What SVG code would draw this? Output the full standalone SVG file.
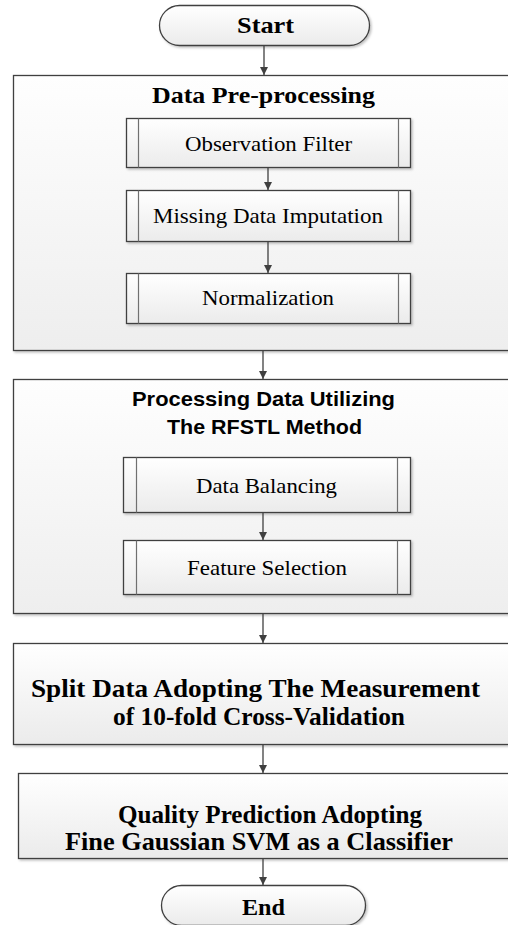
<svg xmlns="http://www.w3.org/2000/svg" width="508" height="925" viewBox="0 0 508 925">
  <defs>
    <linearGradient id="gBox" x1="0" y1="0" x2="0" y2="1">
      <stop offset="0" stop-color="#ffffff"/>
      <stop offset="1" stop-color="#ebebeb"/>
    </linearGradient>
    <linearGradient id="gPanel" x1="0" y1="0" x2="0" y2="1">
      <stop offset="0" stop-color="#fefefe"/>
      <stop offset="1" stop-color="#eeeeee"/>
    </linearGradient>
    <filter id="shadow" x="-5%" y="-5%" width="115%" height="130%">
      <feDropShadow dx="1.5" dy="1.5" stdDeviation="1" flood-color="#000" flood-opacity="0.25"/>
    </filter>
    <marker id="arrow" viewBox="0 0 10 10" refX="10" refY="5" markerWidth="8" markerHeight="8" markerUnits="userSpaceOnUse" orient="auto">
      <path d="M0,0 L10,5 L0,10 Z" fill="#404040"/>
    </marker>
  </defs>
  <style>
    .shape { fill: url(#gBox); stroke: #404040; stroke-width: 1.3; filter: url(#shadow); }
    .panel { fill: url(#gPanel); stroke: #404040; stroke-width: 1.3; filter: url(#shadow); }
    .bar { stroke: #707070; stroke-width: 1.2; }
    .serif { font-family: "Liberation Serif", "Times New Roman", serif; fill: #000; }
    .bold { font-weight: bold; }
    .sans { font-family: "Liberation Sans", Arial, sans-serif; font-weight: bold; fill: #000; }
    .link { stroke: #404040; stroke-width: 1.3; fill: none; marker-end: url(#arrow); }
  </style>

  <rect width="508" height="925" fill="#ffffff"/>

  <!-- terminator: Start -->
  <g id="start">
    <rect class="shape" x="159.5" y="5.5" width="210" height="40" rx="20" ry="20"/>
    <text class="serif bold" x="237" y="33" font-size="24" textLength="57" lengthAdjust="spacingAndGlyphs">Start</text>
  </g>

  <!-- panel: data pre-processing -->
  <g id="preprocessing">
    <rect class="panel" x="13.5" y="75.5" width="510" height="275"/>
    <text class="serif bold" x="152" y="103" font-size="24" textLength="223" lengthAdjust="spacingAndGlyphs">Data Pre-processing</text>
  </g>

  <g id="observation-filter">
    <rect class="shape" x="126.5" y="118.5" width="284" height="49"/>
    <line class="bar" x1="138.5" y1="118.5" x2="138.5" y2="167.5"/>
    <line class="bar" x1="398.5" y1="118.5" x2="398.5" y2="167.5"/>
    <text class="serif" x="185" y="151" font-size="22" textLength="167" lengthAdjust="spacingAndGlyphs">Observation Filter</text>
  </g>

  <g id="missing-data">
    <rect class="shape" x="126.5" y="190.5" width="284" height="51"/>
    <line class="bar" x1="138.5" y1="190.5" x2="138.5" y2="241.5"/>
    <line class="bar" x1="398.5" y1="190.5" x2="398.5" y2="241.5"/>
    <text class="serif" x="153" y="223" font-size="22" textLength="230" lengthAdjust="spacingAndGlyphs">Missing Data Imputation</text>
  </g>

  <g id="normalization">
    <rect class="shape" x="126.5" y="273.5" width="284" height="50"/>
    <line class="bar" x1="138.5" y1="273.5" x2="138.5" y2="323.5"/>
    <line class="bar" x1="398.5" y1="273.5" x2="398.5" y2="323.5"/>
    <text class="serif" x="202" y="305" font-size="22" textLength="132" lengthAdjust="spacingAndGlyphs">Normalization</text>
  </g>

  <!-- panel: RFSTL processing -->
  <g id="rfstl">
    <rect class="panel" x="13.5" y="379.5" width="510" height="234"/>
    <text class="sans" x="132" y="406" font-size="21" textLength="263" lengthAdjust="spacingAndGlyphs">Processing Data Utilizing</text>
    <text class="sans" x="167" y="434" font-size="21" textLength="195" lengthAdjust="spacingAndGlyphs">The RFSTL Method</text>
  </g>

  <g id="data-balancing">
    <rect class="shape" x="123.5" y="457.5" width="287" height="55"/>
    <line class="bar" x1="136.5" y1="457.5" x2="136.5" y2="512.5"/>
    <line class="bar" x1="397.5" y1="457.5" x2="397.5" y2="512.5"/>
    <text class="serif" x="196" y="493" font-size="22" textLength="141" lengthAdjust="spacingAndGlyphs">Data Balancing</text>
  </g>

  <g id="feature-selection">
    <rect class="shape" x="123.5" y="540.5" width="287" height="54"/>
    <line class="bar" x1="136.5" y1="540.5" x2="136.5" y2="594.5"/>
    <line class="bar" x1="397.5" y1="540.5" x2="397.5" y2="594.5"/>
    <text class="serif" x="187" y="575" font-size="22" textLength="160" lengthAdjust="spacingAndGlyphs">Feature Selection</text>
  </g>

  <!-- process: split data -->
  <g id="split-data">
    <rect class="shape" x="13.5" y="643.5" width="510" height="101"/>
    <text class="serif bold" x="31" y="697" font-size="25" textLength="449" lengthAdjust="spacingAndGlyphs">Split Data Adopting The Measurement</text>
    <text class="serif bold" x="113" y="725" font-size="25" textLength="292" lengthAdjust="spacingAndGlyphs">of 10-fold Cross-Validation</text>
  </g>

  <!-- process: quality prediction -->
  <g id="prediction">
    <rect class="shape" x="18.5" y="773.5" width="510" height="85"/>
    <text class="serif bold" x="118" y="823" font-size="25" textLength="304" lengthAdjust="spacingAndGlyphs">Quality Prediction Adopting</text>
    <text class="serif bold" x="65" y="850" font-size="25" textLength="388" lengthAdjust="spacingAndGlyphs">Fine Gaussian SVM as a Classifier</text>
  </g>

  <!-- terminator: End -->
  <g id="end">
    <rect class="shape" x="161.5" y="885.5" width="204" height="40" rx="20" ry="20"/>
    <text class="serif bold" x="242" y="915" font-size="24" textLength="43" lengthAdjust="spacingAndGlyphs">End</text>
  </g>

  <!-- connectors -->
  <g id="connectors">
    <line class="link" x1="264" y1="46" x2="264" y2="75"/>
    <line class="link" x1="268" y1="168" x2="268" y2="190"/>
    <line class="link" x1="268" y1="242" x2="268" y2="273"/>
    <line class="link" x1="263" y1="351" x2="263" y2="379"/>
    <line class="link" x1="263" y1="513" x2="263" y2="540"/>
    <line class="link" x1="263" y1="614" x2="263" y2="643"/>
    <line class="link" x1="263" y1="745" x2="263" y2="773"/>
    <line class="link" x1="263" y1="859" x2="263" y2="885"/>
  </g>
</svg>
